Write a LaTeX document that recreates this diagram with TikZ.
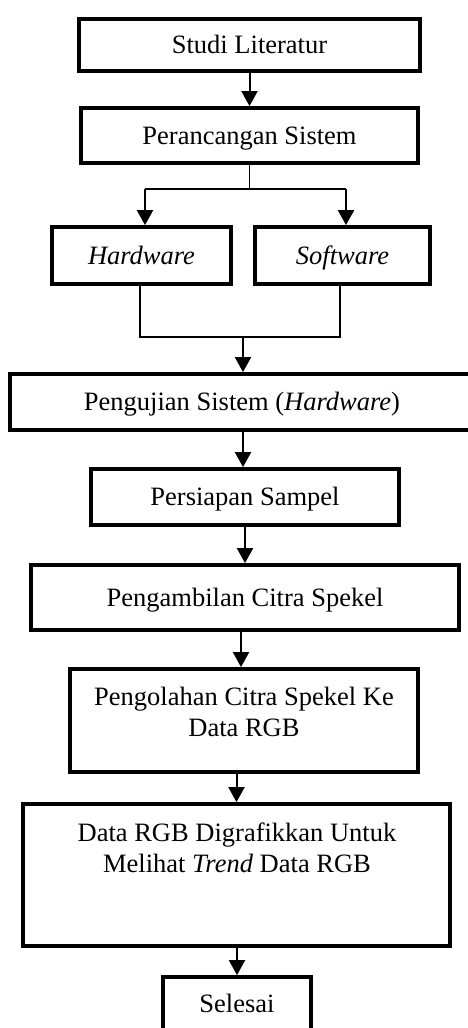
\documentclass[tikz,border=0pt]{standalone}
\usepackage{fontspec}
\setmainfont{Liberation Serif}
\usetikzlibrary{arrows.meta}
\begin{document}
\begin{tikzpicture}[x=1pt,y=-1pt,
  box/.style={draw, line width=3.8pt, inner sep=0pt, font=\fontsize{26.5}{31}\selectfont, text height=20pt, text depth=2.5pt},
  txt/.style={inner sep=0pt, align=center, font=\fontsize{26.5}{31}\selectfont},
  conn/.style={line width=1.2pt},
  arr/.style={line width=2pt, -{Triangle[length=15pt,width=16pt]}}]
\useasboundingbox (0,0) rectangle (468,1028);
\node[box, minimum width=341pt, minimum height=52pt] (b1) at (249.5,45) {Studi Literatur};
\node[box, minimum width=337pt, minimum height=55pt] (b2) at (249.5,135.5) {Perancangan Sistem};
\node[box, minimum width=179pt, minimum height=57pt] (hw) at (141.5,255.5) {\textit{Hardware}};
\node[box, minimum width=175pt, minimum height=57pt] (sw) at (342.5,255.5) {\textit{Software}};
\node[box, minimum width=464pt, minimum height=56pt] (b3) at (242,402) {Pengujian Sistem (\textit{Hardware})};
\node[box, minimum width=308pt, minimum height=56pt] (b4) at (245,497) {Persiapan Sampel};
\node[box, minimum width=428pt, minimum height=65pt] (b5) at (245,597.5) {Pengambilan Citra Spekel};
\node[box, minimum width=348pt, minimum height=103pt] (b6) at (244,720.5) {};
\node[txt, anchor=north] (t6) at (244,687.4) {Pengolahan Citra Spekel Ke\\Data RGB};
\node[box, minimum width=427pt, minimum height=142pt] (b7) at (236.5,875) {};
\node[txt, anchor=north] (t7) at (237,822.4) {Data RGB Digrafikkan Untuk\\Melihat \textit{Trend} Data RGB};
\node[box, minimum width=148pt, minimum height=54pt] (b8) at (237,1004) {Selesai};
% connectors
\draw[arr] (b1.south) -- (b1.south |- b2.north);
\coordinate (hl) at (145,189);
\coordinate (hr) at (346,189);
\draw[conn] (b2.south) -- (b2.south |- hl);
\draw[conn] (hl) -- (hr);
\draw[arr] (hl) -- (hl |- hw.north);
\draw[arr] (hr) -- (hr |- sw.north);
\coordinate (jl) at (140,337);
\coordinate (jr) at (340,337);
\coordinate (jm) at (243,337);
\draw[conn] (jl |- hw.south) -- (jl) -- (jr) -- (jr |- sw.south);
\draw[arr] (jm) -- (jm |- b3.north);
\draw[arr] (jm |- b3.south) -- (jm |- b4.north);
\draw[arr] (b4.south) -- (b4.south |- b5.north);
\coordinate (a5) at (241,640);
\draw[arr] (a5 |- b5.south) -- (a5 |- b6.north);
\draw[arr] (b7.north |- b6.south) -- (b7.north);
\draw[arr] (b8.north |- b7.south) -- (b8.north);
\end{tikzpicture}
\end{document}
